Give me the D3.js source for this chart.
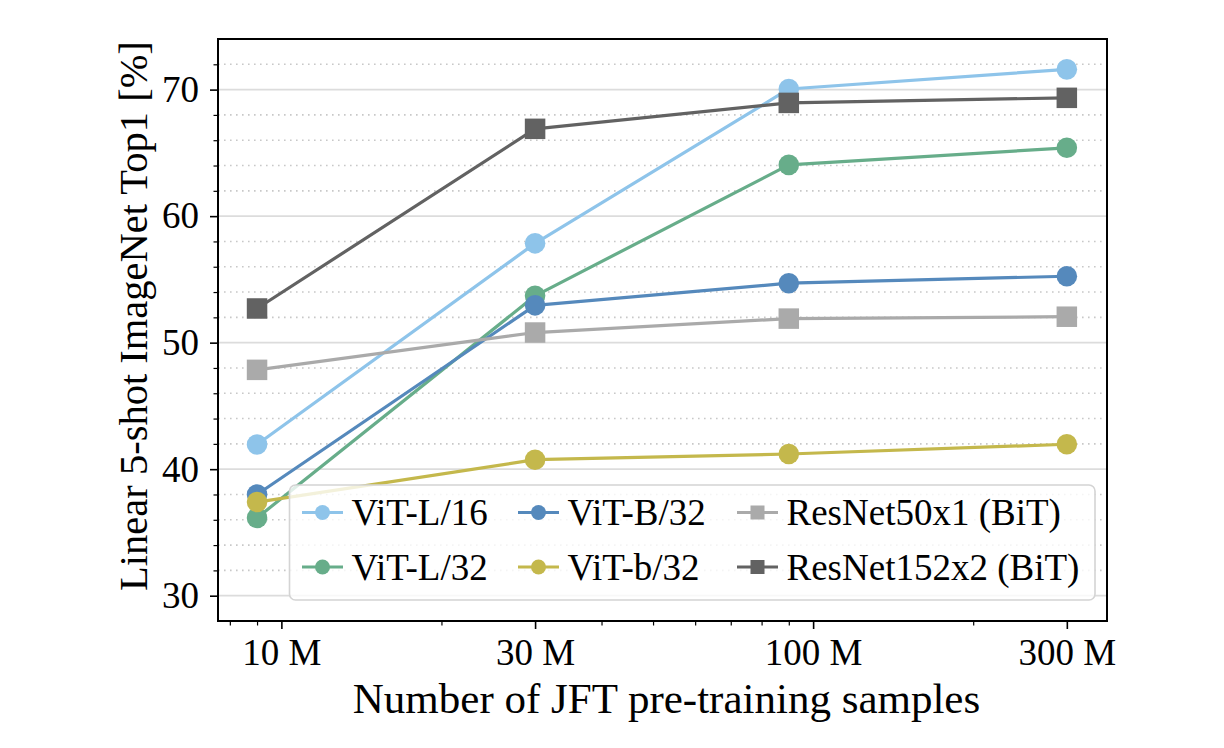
<!DOCTYPE html>
<html>
<head>
<meta charset="utf-8">
<script src="https://cdn.jsdelivr.net/npm/d3@7"></script>
<style>
  html, body { margin: 0; padding: 0; background: #fff; }
  svg { display: block; }
  text { font-family: "Liberation Serif", "Times New Roman", serif; fill: #000; }
</style>
</head>
<body>
<svg id="chart" width="1224" height="748"></svg>
<script>
// ---- data (x in millions of samples) ----
const samples = [9, 30, 90, 300];
const seriesNames = ["ViT-L/16", "ViT-L/32", "ViT-B/32", "ViT-b/32", "ResNet50x1 (BiT)", "ResNet152x2 (BiT)"];
const vitL16 = [41.95, 57.85, 70.05, 71.6];
const vitL32 = [36.15, 53.7, 64.05, 65.4];
const vitB32 = [38.0, 52.95, 54.7, 55.25];
const vitb32 = [37.4, 40.75, 41.2, 41.97];
const resnet50 = [47.85, 50.8, 51.9, 52.05];
const resnet152 = [52.7, 66.9, 68.95, 69.35];
const seriesColors = ["#8ec4ea", "#67ad8a", "#5589bc", "#c4b84c", "#aaaaaa", "#626262"];
const seriesMarkers = ["circle", "circle", "circle", "circle", "square", "square"];
const xTickValues = [10, 30, 100, 300];
const xTickLabels = ["10 M", "30 M", "100 M", "300 M"];
const xMinorTicks = [8, 9, 20, 40, 50, 60, 70, 80, 90, 200];
const yTickValues = [30, 40, 50, 60, 70];
const yMinorTicks = [32, 34, 36, 38, 42, 44, 46, 48, 52, 54, 56, 58, 62, 64, 66, 68, 72];
const xLabel = "Number of JFT pre-training samples";
const yLabel = "Linear 5-shot ImageNet Top1 [%]";

const allSeries = [vitL16, vitL32, vitB32, vitb32, resnet50, resnet152];

// ---- layout ----
const plotL = 218, plotR = 1107, plotT = 39, plotB = 621;
const svg = d3.select("#chart");

const x = d3.scaleLog().domain([7.6, 357]).range([plotL, plotR]);
const y = d3.scaleLinear().domain([28, 74]).range([plotB, plotT]);

// gridlines
const grid = svg.append("g");
grid.selectAll("line.minor").data(yMinorTicks).enter().append("line")
  .attr("x1", plotL).attr("x2", plotR)
  .attr("y1", d => y(d)).attr("y2", d => y(d))
  .attr("stroke", "#c8c8c8").attr("stroke-width", 1.6)
  .attr("stroke-dasharray", "1.6,4.4");
grid.selectAll("line.major").data(yTickValues).enter().append("line")
  .attr("x1", plotL).attr("x2", plotR)
  .attr("y1", d => y(d)).attr("y2", d => y(d))
  .attr("stroke", "#dcdcdc").attr("stroke-width", 1.8);

// axes
const xAxis = d3.axisBottom(x).tickValues(xTickValues)
  .tickFormat((d, i) => xTickLabels[i]).tickSize(8).tickPadding(10);
const gx = svg.append("g").attr("transform", `translate(0,${plotB})`).call(xAxis);
gx.select(".domain").remove();
gx.selectAll(".tick line").attr("stroke", "#000").attr("stroke-width", 1.6);
gx.selectAll(".tick text").attr("font-size", 37).attr("font-family", "Liberation Serif").attr("fill", "#000");

const xAxisMinor = d3.axisBottom(x).tickValues(xMinorTicks).tickFormat("").tickSize(4.5);
const gxm = svg.append("g").attr("transform", `translate(0,${plotB})`).call(xAxisMinor);
gxm.select(".domain").remove();
gxm.selectAll(".tick line").attr("stroke", "#000").attr("stroke-width", 1.2);

const yAxis = d3.axisLeft(y).tickValues(yTickValues).tickFormat(d3.format("d")).tickSize(8).tickPadding(11);
const gy = svg.append("g").attr("transform", `translate(${plotL},0)`).call(yAxis);
gy.select(".domain").remove();
gy.selectAll(".tick line").attr("stroke", "#000").attr("stroke-width", 1.6);
gy.selectAll(".tick text").attr("font-size", 37).attr("font-family", "Liberation Serif").attr("fill", "#000");

const yAxisMinor = d3.axisLeft(y).tickValues(yMinorTicks).tickFormat("").tickSize(4.5);
const gym = svg.append("g").attr("transform", `translate(${plotL},0)`).call(yAxisMinor);
gym.select(".domain").remove();
gym.selectAll(".tick line").attr("stroke", "#000").attr("stroke-width", 1.2);

// series
const line = d3.line().x((d, i) => x(samples[i])).y(d => y(d));
allSeries.forEach((vals, si) => {
  const g = svg.append("g");
  g.append("path").datum(vals).attr("d", line)
    .attr("fill", "none").attr("stroke", seriesColors[si]).attr("stroke-width", 3.2)
    .attr("stroke-linejoin", "round");
  if (seriesMarkers[si] === "circle") {
    g.selectAll("circle").data(vals).enter().append("circle")
      .attr("cx", (d, i) => x(samples[i])).attr("cy", d => y(d)).attr("r", 10.3)
      .attr("fill", seriesColors[si]);
  } else {
    const s = 20.5;
    g.selectAll("rect").data(vals).enter().append("rect")
      .attr("x", (d, i) => x(samples[i]) - s / 2).attr("y", d => y(d) - s / 2)
      .attr("width", s).attr("height", s)
      .attr("fill", seriesColors[si]);
  }
});

// frame
svg.append("rect").attr("x", plotL).attr("y", plotT)
  .attr("width", plotR - plotL).attr("height", plotB - plotT)
  .attr("fill", "none").attr("stroke", "#000").attr("stroke-width", 2);

// legend
const lg = svg.append("g");
lg.append("rect").attr("x", 289.5).attr("y", 485).attr("width", 805.5).attr("height", 115)
  .attr("rx", 6).attr("ry", 6)
  .attr("fill", "#fff").attr("fill-opacity", 0.8)
  .attr("stroke", "#d4d4d4").attr("stroke-width", 1.6);
const colX = [302, 518, 737];
const rowY = [512.5, 567];
seriesNames.forEach((name, si) => {
  const c = Math.floor(si / 2), r = si % 2;
  const x0 = colX[c], yy = rowY[r];
  const item = lg.append("g");
  item.append("line").attr("x1", x0).attr("x2", x0 + 41).attr("y1", yy).attr("y2", yy)
    .attr("stroke", seriesColors[si]).attr("stroke-width", 3.2);
  if (seriesMarkers[si] === "circle") {
    item.append("circle").attr("cx", x0 + 20.5).attr("cy", yy).attr("r", 7.5).attr("fill", seriesColors[si]);
  } else {
    item.append("rect").attr("x", x0 + 20.5 - 7).attr("y", yy - 7).attr("width", 14).attr("height", 14)
      .attr("fill", seriesColors[si]);
  }
  item.append("text").attr("x", x0 + 49.5).attr("y", yy + 12.5)
    .attr("font-size", 37).text(name);
});

// axis labels
svg.append("text").attr("x", (plotL + plotR) / 2 + 4).attr("y", 713)
  .attr("text-anchor", "middle").attr("font-size", 43).text(xLabel);
svg.append("text")
  .attr("transform", `translate(147,316) rotate(-90)`)
  .attr("text-anchor", "middle").attr("font-size", 40.5).text(yLabel);
</script>
</body>
</html>
